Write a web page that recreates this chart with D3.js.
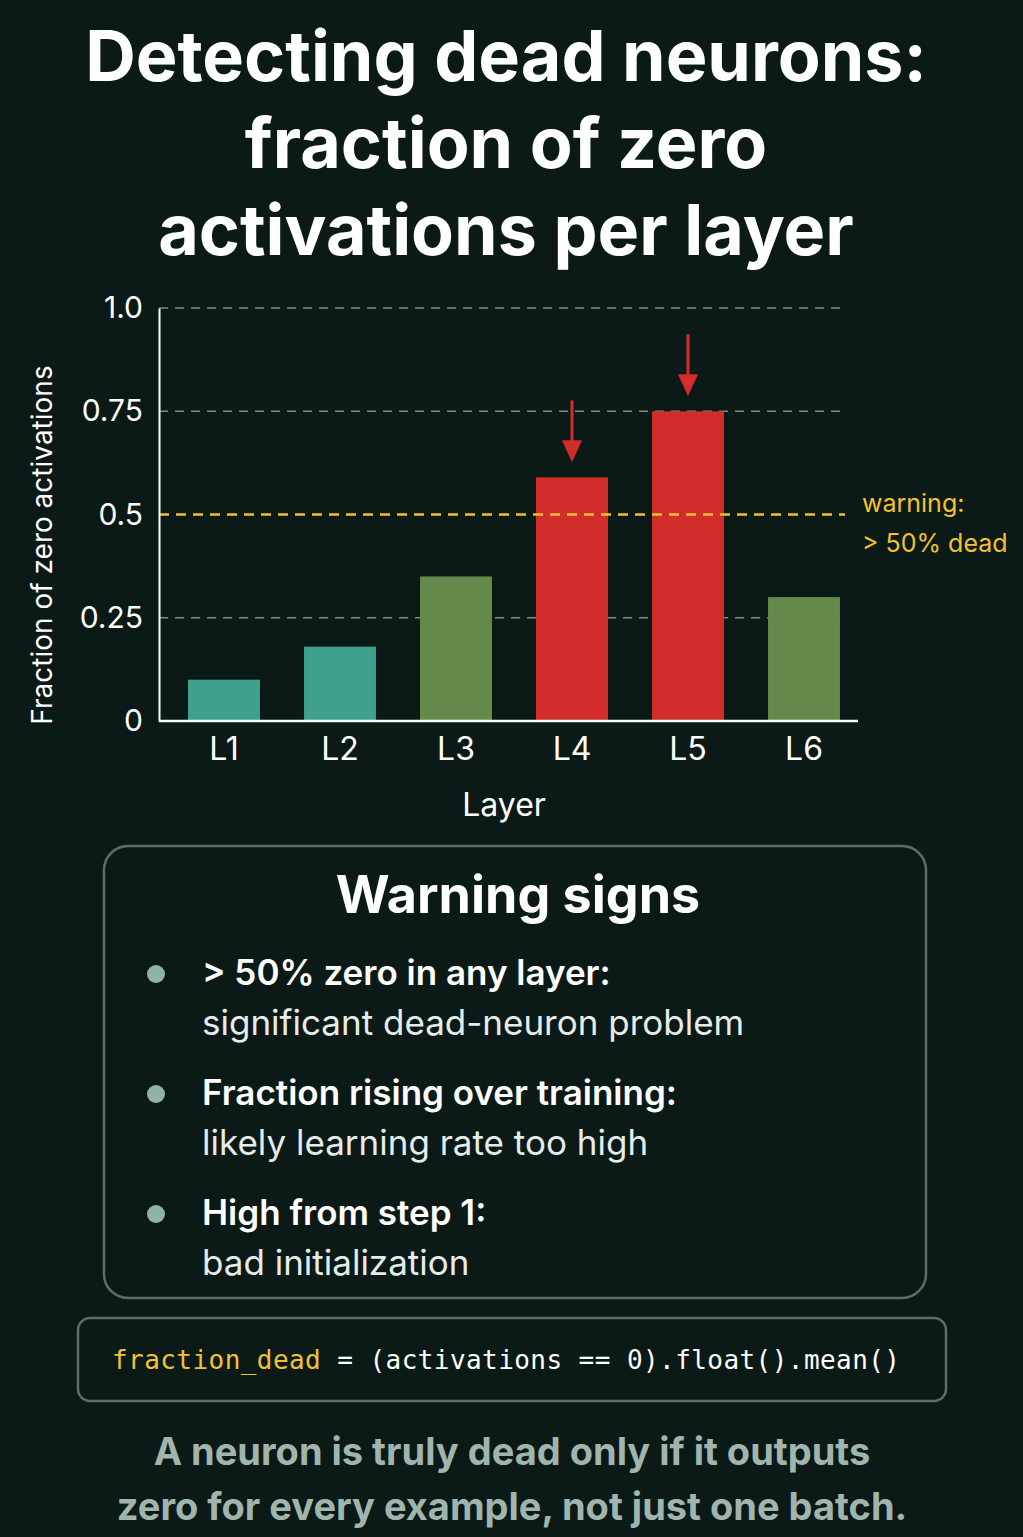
<!DOCTYPE html>
<html><head><meta charset="utf-8">
<script src="https://cdn.jsdelivr.net/npm/d3@7"></script>
<style>body{margin:0;background:#0b1a17;}svg{display:block}</style>
</head><body>
<script>
const layers = ["L1","L2","L3","L4","L5","L6"];
const fractions = [0.10,0.18,0.35,0.59,0.75,0.30];
const barColors = ["#3fa08b","#3fa08b","#668a4b","#d22d2a","#d22d2a","#668a4b"];
const yTicks = [0,0.25,0.5,0.75,1.0];
const yTickLabels = ["0","0.25","0.5","0.75","1.0"];
const threshold = 0.5;
const arrowLayers = ["L4","L5"];
const signs = [
  ["> 50% zero in any layer:","significant dead-neuron problem"],
  ["Fraction rising over training:","likely learning rate too high"],
  ["High from step 1:","bad initialization"]
];

const W=1023,H=1537,F="Inter, 'Open Sans', sans-serif";
const svg=d3.select("body").append("svg").attr("width",W).attr("height",H);
svg.append("rect").attr("width",W).attr("height",H).attr("fill","#0b1a17");

["Detecting dead neurons:","fraction of zero","activations per layer"].forEach((t,i)=>
  svg.append("text").attr("x",506).attr("y",81+i*87).attr("text-anchor","middle")
   .attr("fill","#fff").attr("font-family",F).attr("font-weight",700).attr("font-size",70).text(t));

const x=d3.scaleBand().domain(layers).range([166,862]).paddingInner(0.38).paddingOuter(0.19);
const y=d3.scaleLinear().domain([0,1]).range([721,308]);

// grid
svg.selectAll(".g").data(yTicks.filter(v=>v>0&&v!==threshold)).join("line")
 .attr("x1",159).attr("x2",845).attr("y1",d=>y(d)).attr("y2",d=>y(d))
 .attr("stroke","#7d8a86").attr("stroke-width",1.5).attr("stroke-dasharray","9,7");

svg.selectAll(".b").data(layers).join("rect")
 .attr("x",d=>x(d)).attr("width",x.bandwidth())
 .attr("y",(d,i)=>y(fractions[i])).attr("height",(d,i)=>y(0)-y(fractions[i]))
 .attr("fill",(d,i)=>barColors[i]);

svg.append("line").attr("x1",159).attr("x2",845).attr("y1",y(threshold)).attr("y2",y(threshold))
 .attr("stroke","#f2c230").attr("stroke-width",2.5).attr("stroke-dasharray","10,7");
svg.append("text").attr("x",862).attr("y",y(threshold)-3).attr("fill","#f2c230").attr("font-family",F).attr("font-size",25).text("warning:");
svg.append("text").attr("x",862).attr("y",y(threshold)+37).attr("fill","#f2c230").attr("font-family",F).attr("font-size",25).text("> 50% dead");

// axes
const ya=svg.append("g").attr("transform","translate(159,0)")
 .call(d3.axisLeft(y).tickValues(yTicks).tickFormat((d,i)=>yTickLabels[i]).tickSize(0).tickPadding(16));
ya.select(".domain").attr("stroke","#fff").attr("stroke-width",2);
ya.selectAll("text").attr("fill","#fff").attr("font-family",F).attr("font-size",30);
const xa=svg.append("g").attr("transform","translate(0,721)")
 .call(d3.axisBottom(x).tickSize(0).tickPadding(16));
xa.select(".domain").attr("d","M159,0H858").attr("stroke","#fff").attr("stroke-width",2.5);
xa.selectAll("text").attr("fill","#fff").attr("font-family",F).attr("font-size",32);
svg.append("text").attr("x",504).attr("y",816).attr("text-anchor","middle").attr("fill","#fff").attr("font-family",F).attr("font-size",32).text("Layer");
svg.append("text").attr("transform","translate(52,545) rotate(-90)").attr("text-anchor","middle").attr("fill","#fff").attr("font-family",F).attr("font-size",28).text("Fraction of zero activations");

// arrows
arrowLayers.forEach(l=>{
  const i=layers.indexOf(l),cx=x(l)+x.bandwidth()/2,yt=y(fractions[i])-15;
  svg.append("line").attr("x1",cx).attr("x2",cx).attr("y1",yt-62).attr("y2",yt-18).attr("stroke","#d22d2a").attr("stroke-width",3);
  svg.append("path").attr("d",`M${cx-10},${yt-22}L${cx+10},${yt-22}L${cx},${yt}Z`).attr("fill","#d22d2a");
});

// warning box
svg.append("rect").attr("x",104).attr("y",846).attr("width",822).attr("height",452).attr("rx",24)
 .attr("fill","none").attr("stroke","#5d6e69").attr("stroke-width",2.5);
svg.append("text").attr("x",518).attr("y",913).attr("text-anchor","middle").attr("fill","#fff").attr("font-family",F).attr("font-weight",700).attr("font-size",52).text("Warning signs");
signs.forEach((s,i)=>{
  const by=985+i*120;
  svg.append("circle").attr("cx",156).attr("cy",by-11).attr("r",9).attr("fill","#8fb3a6");
  svg.append("text").attr("x",202).attr("y",by).attr("fill","#fff").attr("font-family",F).attr("font-weight",600).attr("font-size",35).text(s[0]);
  svg.append("text").attr("x",202).attr("y",by+50).attr("fill","#e6ecea").attr("font-family",F).attr("font-size",35).text(s[1]);
});

// code box
svg.append("rect").attr("x",78).attr("y",1318).attr("width",868).attr("height",83).attr("rx",12)
 .attr("fill","none").attr("stroke","#5d6e69").attr("stroke-width",2.5);
const ct=svg.append("text").attr("x",112).attr("y",1369).attr("font-family","'DejaVu Sans Mono', monospace").attr("font-size",26).attr("textLength",788);
ct.append("tspan").attr("fill","#f2c230").text("fraction_dead");
ct.append("tspan").attr("fill","#fff").text(" = (activations == 0).float().mean()");

["A neuron is truly dead only if it outputs","zero for every example, not just one batch."].forEach((t,i)=>
 svg.append("text").attr("x",512).attr("y",1465+i*55).attr("text-anchor","middle").attr("fill","#9fb5ad")
  .attr("font-family",F).attr("font-weight",700).attr("font-size",38).text(t));
</script>
</body></html>
